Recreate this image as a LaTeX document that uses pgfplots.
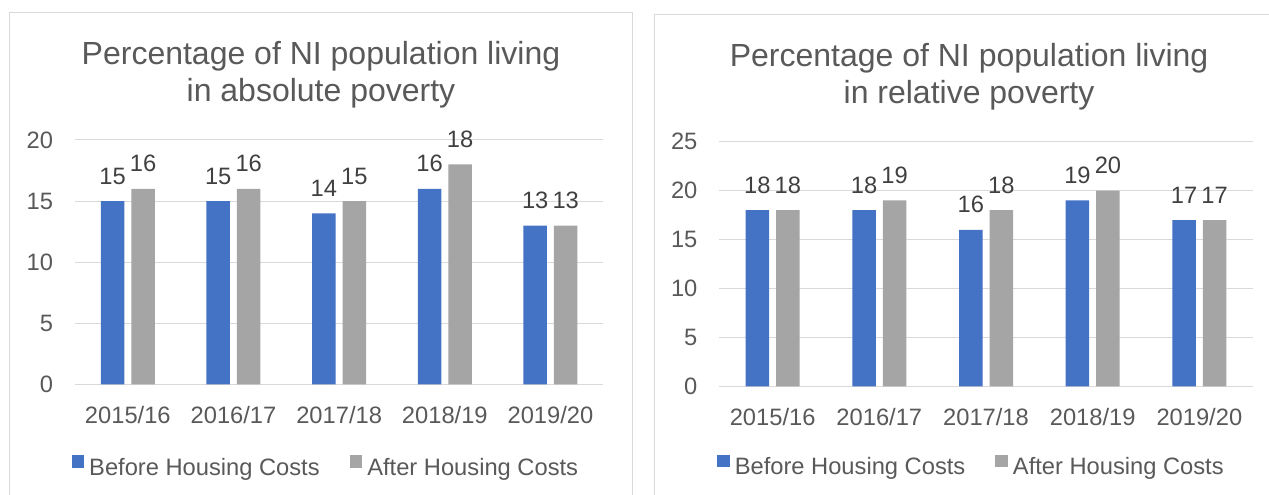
\documentclass[border=0pt]{standalone}
\usepackage{pgfplots}
\pgfplotsset{compat=1.18}
\usepackage{fontspec}
\setmainfont{Liberation Sans}
\definecolor{bhc}{HTML}{4472C4}
\definecolor{ahc}{HTML}{A5A5A5}
\definecolor{gridc}{HTML}{D9D9D9}
\definecolor{txt}{HTML}{595959}
\definecolor{lbl}{HTML}{404040}

\pgfplotstableread{
x bhc ahc
0 15 16
1 15 16
2 14 15
3 16 18
4 13 13
}\absdata
\pgfplotstableread{
x bhc ahc
0 18 18
1 18 19
2 16 18
3 19 20
4 17 17
}\reldata

\pgfplotsset{
  povstyle/.style={
    scale only axis,
    ybar=7pt, bar width=23.5pt,
    xmin=-0.5, xmax=4.5,
    xtick={0,...,4},
    xticklabels={2015/16,2016/17,2017/18,2018/19,2019/20},
    ymin=0,
    axis line style={draw=none},
    major tick length=0pt,
    ymajorgrids, grid style={gridc, line width=1pt},
    tick label style={font=\fontsize{23.7}{28}\selectfont, text=txt},
    /pgf/number format/assume math mode=true,
    xticklabel style={anchor=base, yshift=-39pt, inner sep=0pt},
    yticklabel style={anchor=east, xshift=-21.7pt, inner sep=0pt},
    nodes near coords,
    nodes near coords style={font=\fontsize{23.7}{28}\selectfont, text=lbl, anchor=base, yshift=17pt, inner sep=0pt},
    clip=false,
    title style={font=\fontsize{32}{37}\selectfont, text=txt, align=center, inner sep=0pt, anchor=south},
    legend columns=2,
    legend image code/.code={\fill[##1,draw=none] (0pt,0.3pt) rectangle (12.3pt,12.6pt);},
    legend style={draw=none, fill=none, font=\fontsize{23.7}{28}\selectfont, text=txt, inner sep=0pt,
      nodes={inner sep=0pt},
      /tikz/every odd column/.append style={column sep=5.3pt},
      /tikz/every even column/.append style={column sep=30pt}},
  }
}

\begin{document}
\begin{tikzpicture}
\useasboundingbox (0pt,0pt) rectangle (1269pt,495pt);
% chart frames
\draw[gridc, line width=1.2pt] (9.5pt,0pt) -- (9.5pt,482.3pt) -- (632.7pt,482.3pt) -- (632.7pt,0pt);
\draw[gridc, line width=1.2pt] (654.3pt,0pt) -- (654.3pt,480.7pt) -- (1269pt,480.7pt);

\begin{axis}[povstyle,
  at={(75pt,110.5pt)}, anchor=south west,
  width=528.3pt, height=244.5pt,
  ymax=20, ytick={0,5,10,15,20},
  title={Percentage of NI population living\\in absolute poverty},
  title style={at={(0.4656,1)}, yshift=25.5pt},
  legend style={at={(-0.0068,-0.2893)}, anchor=north west},
]
\addplot[fill=bhc, draw=none] table[x=x,y=bhc] {\absdata};
\addplot[fill=ahc, draw=none] table[x=x,y=ahc] {\absdata};
\legend{Before Housing Costs, After Housing Costs}
\end{axis}

\begin{axis}[povstyle,
  at={(719.3pt,108.5pt)}, anchor=south west,
  width=533.4pt, height=244.8pt,
  ymax=25, ytick={0,5,10,15,20,25},
  title={Percentage of NI population living\\in relative poverty},
  title style={at={(0.4682,1)}, yshift=25.2pt},
  legend style={at={(-0.0043,-0.2771)}, anchor=north west},
]
\addplot[fill=bhc, draw=none] table[x=x,y=bhc] {\reldata};
\addplot[fill=ahc, draw=none] table[x=x,y=ahc] {\reldata};
\legend{Before Housing Costs, After Housing Costs}
\end{axis}
\end{tikzpicture}
\end{document}
